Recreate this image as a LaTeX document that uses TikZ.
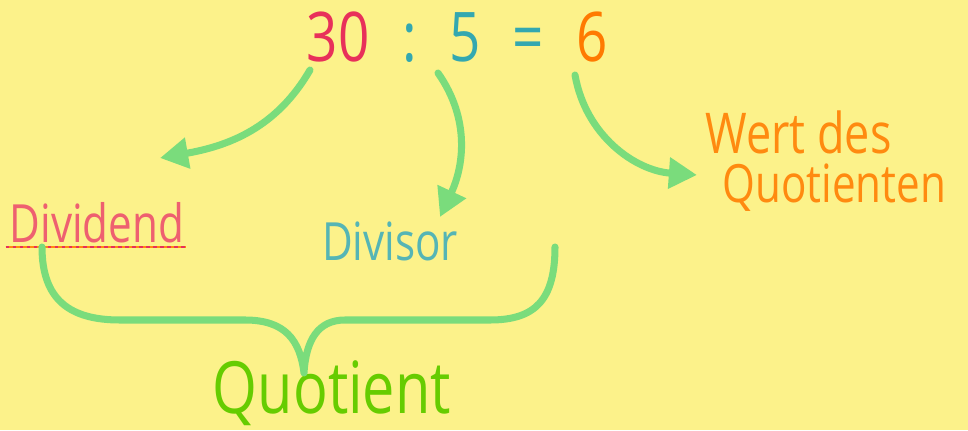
\documentclass[tikz,border=0pt]{standalone}
\usepackage{fontspec}
\setmainfont{Open Sans}[FakeStretch=0.8]
\usepackage{xcolor}
\usepackage{tikz}
\usetikzlibrary{arrows.meta,calc}
\definecolor{bgyellow}{HTML}{FCF28A}
\definecolor{numred}{HTML}{E8305A}
\definecolor{divred}{HTML}{EE6070}
\definecolor{numteal}{HTML}{33A8B0}
\definecolor{divteal}{HTML}{55B5B5}
\definecolor{numorange}{HTML}{FF7A00}
\definecolor{wertorange}{HTML}{FF8A10}
\definecolor{arrowgreen}{HTML}{7ADC7C}
\definecolor{quotgreen}{HTML}{66CC00}
\tikzset{
  numtxt/.style ={anchor=base, inner sep=1pt, font=\fontsize{39}{44}\selectfont},
  lbltxt/.style ={anchor=base, inner sep=1pt},
  flow/.style   ={-{Triangle[length=16pt,width=17pt]}, line width=4pt,
                  draw=arrowgreen, line cap=round},
  brace/.style  ={line width=4pt, draw=arrowgreen, line cap=round, line join=round}
}
\begin{document}
\begin{tikzpicture}[x=0.02cm,y=0.02cm]
  \fill[bgyellow] (0,0) rectangle (968,430);
  \useasboundingbox (0,0) rectangle (968,430);
  % equation
  \node[numtxt, text=numred]    (n30)   at (338,368) {30};
  \node[numtxt, text=numteal]   (colon) at (410,368) {:};
  \node[numtxt, text=numteal]   (n5)    at (465,368) {5};
  \node[numtxt, text=numteal]   (eq)    at (528,368) {=};
  \node[numtxt, text=numorange] (n6)    at (592,368) {6};
  % labels
  \node[lbltxt, text=divred, font=\fontsize{30}{34}\selectfont]   (dividend) at (97,187) {Dividend};
  \node[lbltxt, text=divteal, font=\fontsize{30}{34}\selectfont]  (divisor)  at (390,170) {Divisor};
  \node[lbltxt, anchor=base west, inner sep=0pt, text=wertorange, font=\fontsize{32}{36}\selectfont] (wert) at (705,276) {Wert des};
  \node[lbltxt, anchor=base west, inner sep=0pt, text=wertorange, font=\fontsize{30}{34}\selectfont] (quotienten) at (722,227) {Quotienten};
  \node[lbltxt, inner sep=0pt, text=quotgreen, font=\fontsize{41}{46}\selectfont] (quotient) at (332,17) {Quotient};
  % underline
  \draw[wertorange, line width=1.2pt] ($(dividend.base west)+(-2,-4)$) -- ($(dividend.base east)+(0,-4)$);
  \draw[numred, line width=1.2pt, dash pattern=on 2pt off 2pt] ($(dividend.base west)+(-2,-4)$) -- ($(dividend.base east)+(0,-4)$);
  % arrows
  \draw[flow] ($(n30.base)+(-28,-8)$) to[out=-120,in=10] ($(dividend.base)+(63,85)$);
  \draw[flow] ($(n5.base)+(-27,-11)$) to[out=-55,in=65] ($(divisor.base)+(50,43)$);
  \draw[flow] ($(n6.base)+(-17,-13)$) to[out=-80,in=176] ($(wert.base west)+(-8,-21)$);
  % brace
  \coordinate (bl)  at ($(dividend.base)+(-55,-4)$);
  \coordinate (br)  at ($(divisor.base)+(165,13)$);
  \coordinate (tip) at ($(quotient.base)+(-28,40)$);
  \draw[brace] (bl) .. controls ++(0,-53) and (70,110) .. (120,110) -- (245,110)
     .. controls (285,110) and (300,90) .. (tip)
     .. controls (306,90) and (318,110) .. (345,110) -- (490,110)
     .. controls (535,110) and ($(br)+(0,-53)$) .. (br);
\end{tikzpicture}
\end{document}
